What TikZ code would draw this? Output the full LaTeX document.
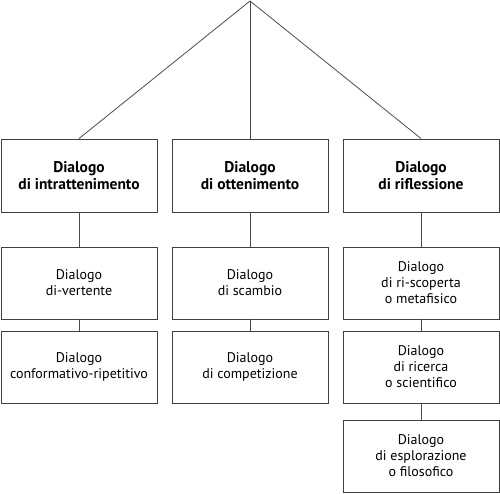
\documentclass[tikz,border=0pt]{standalone}
\usepackage{fontspec}
\setmainfont{PT Sans}
\begin{document}
\begin{tikzpicture}[x=1pt,y=-1pt,
  box/.style={draw=black!75,line width=0.9pt,minimum width=156pt,minimum height=72pt,inner sep=0pt,align=center,font=\fontsize{14}{16}\selectfont},
  topbox/.style={box,font=\fontsize{15.5}{17}\selectfont\bfseries,minimum height=73pt},
  link/.style={draw=black!70,line width=0.8pt}]
\useasboundingbox (0,0) rectangle (500,494);
\coordinate (apex) at (250,1);
\node[topbox] (a1) at (79,175.5) {Dialogo\\di intrattenimento};
\node[topbox] (a2) at (250,175.5) {Dialogo\\di ottenimento};
\node[topbox] (a3) at (421,175.5) {Dialogo\\di riflessione};
\node[box] (b1) at (79,283) {Dialogo\\di-vertente};
\node[box] (b2) at (250,283) {Dialogo\\di scambio};
\node[box] (b3) at (421,283) {Dialogo\\di ri-scoperta\\o metafisico};
\node[box] (c1) at (79,367) {Dialogo\\conformativo-ripetitivo};
\node[box] (c2) at (250,367) {Dialogo\\di competizione};
\node[box] (c3) at (421,367) {Dialogo\\di ricerca\\o scientifico};
\node[box] (d3) at (421,456) {Dialogo\\di esplorazione\\o filosofico};
\draw[link] (apex) -- (a1.north);
\draw[link] (apex) -- (a2.north);
\draw[link] (apex) -- (a3.north);
\draw[link] (a1) -- (b1);
\draw[link] (a2) -- (b2);
\draw[link] (a3) -- (b3);
\draw[link] (b1) -- (c1);
\draw[link] (b2) -- (c2);
\draw[link] (b3) -- (c3);
\draw[link] (c3) -- (d3);
\end{tikzpicture}
\end{document}
